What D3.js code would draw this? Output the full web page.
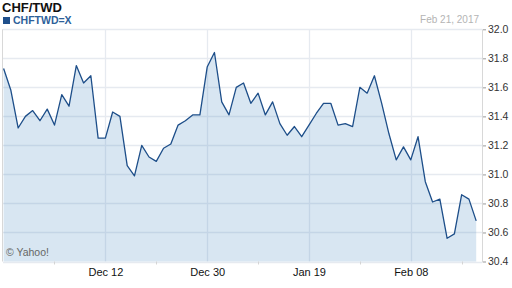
<!DOCTYPE html>
<html>
<head>
<meta charset="utf-8">
<script src="https://cdn.jsdelivr.net/npm/d3@7"></script>
<style>
  body { margin: 0; background: #fff; }
  svg { display: block; font-family: "Liberation Sans", Arial, sans-serif; }
</style>
</head>
<body>
<div id="chart"></div>
<script>
// daily closes, Nov 22 2016 .. Feb 21 2017 (weekdays only)
var closes = [31.73, 31.58, 31.32, 31.40, 31.44, 31.37, 31.45, 31.34, 31.55, 31.47,
              31.75, 31.63, 31.68, 31.25, 31.25, 31.43, 31.40, 31.06, 30.99, 31.20,
              31.12, 31.09, 31.18, 31.21, 31.34, 31.37, 31.41, 31.41, 31.74, 31.84,
              31.50, 31.41, 31.60, 31.63, 31.49, 31.56, 31.41, 31.50, 31.35, 31.27,
              31.33, 31.26, 31.34, 31.42, 31.49, 31.49, 31.34, 31.35, 31.33, 31.60,
              31.56, 31.68, 31.49, 31.28, 31.10, 31.19, 31.10, 31.26, 30.95, 30.81,
              30.83, 30.56, 30.59, 30.86, 30.83, 30.68];

var xTickIdx = [14, 28, 42, 56];
var xTickLabels = ["Dec 12", "Dec 30", "Jan 19", "Feb 08"];
var xMinorIdx = [7, 21, 35, 49, 63];
var yTicks = [30.4, 30.6, 30.8, 31.0, 31.2, 31.4, 31.6, 31.8, 32.0];

var title = "CHF/TWD";
var symbol = "CHFTWD=X";
var asOf = "Feb 21, 2017";

var width = 512, height = 288;
var plot = {left: 3, right: 482, top: 29.3, bottom: 261.5};

var x = d3.scaleLinear()
    .domain([0, closes.length - 1])
    .range([plot.left + 0.6, 476.2]);

var y = d3.scaleLinear()
    .domain([30.4, 32.0])
    .range([plot.bottom, plot.top]);

var svg = d3.select("#chart").append("svg")
    .attr("width", width)
    .attr("height", height);

// header
svg.append("text")
    .attr("x", 2)
    .attr("y", 12)
    .style("font-size", "13px")
    .style("font-weight", "bold")
    .style("fill", "#111")
    .text(title);

svg.append("rect")
    .attr("x", 3).attr("y", 17)
    .attr("width", 7).attr("height", 7)
    .style("fill", "#1f4f8b");

svg.append("text")
    .attr("x", 13)
    .attr("y", 24)
    .style("font-size", "10.5px")
    .style("font-weight", "bold")
    .style("fill", "#2d5f9a")
    .text(symbol);

svg.append("text")
    .attr("x", 479)
    .attr("y", 23)
    .style("font-size", "10px")
    .style("text-anchor", "end")
    .style("fill", "#b4b4b4")
    .text(asOf);

// gridlines
var grid = svg.append("g").attr("class", "grid");

grid.selectAll(".hgrid")
    .data(yTicks)
    .enter().append("line")
    .attr("class", "hgrid")
    .attr("x1", plot.left)
    .attr("x2", plot.right)
    .attr("y1", function (d) { return Math.round(y(d)) + 0.5; })
    .attr("y2", function (d) { return Math.round(y(d)) + 0.5; })
    .style("stroke", "#e6eaf0")
    .style("stroke-width", 1.3);

grid.selectAll(".vgrid")
    .data(xTickIdx)
    .enter().append("line")
    .attr("class", "vgrid")
    .attr("x1", function (d) { return Math.round(x(d)) + 0.5; })
    .attr("x2", function (d) { return Math.round(x(d)) + 0.5; })
    .attr("y1", plot.top)
    .attr("y2", plot.bottom)
    .style("stroke", "#e6eaf0")
    .style("stroke-width", 1.3);

// area + line
var area = d3.area()
    .x(function (d, i) { return x(i); })
    .y0(plot.bottom)
    .y1(function (d) { return y(d); });

var line = d3.line()
    .x(function (d, i) { return x(i); })
    .y(function (d) { return y(d); });

svg.append("path")
    .datum(closes)
    .attr("d", area)
    .style("fill", "rgb(60,130,190)")
    .style("fill-opacity", 0.2);

svg.append("path")
    .datum(closes)
    .attr("d", line)
    .style("fill", "none")
    .style("stroke", "#1d4e89")
    .style("stroke-width", 1.3)
    .style("stroke-linejoin", "round");

// frame: left edge and right axis line
svg.append("line")
    .attr("x1", plot.left - 0.5).attr("x2", plot.left - 0.5)
    .attr("y1", plot.top).attr("y2", plot.bottom)
    .style("stroke", "#d8d8d8");

svg.append("line")
    .attr("x1", plot.right + 0.5).attr("x2", plot.right + 0.5)
    .attr("y1", plot.top).attr("y2", plot.bottom + 1)
    .style("stroke", "#d8d8d8");

// right y axis
var yAxis = svg.append("g")
    .attr("transform", "translate(" + (plot.right + 1) + ",0)")
    .call(d3.axisRight(y).tickValues(yTicks).tickSize(3).tickPadding(2)
        .tickFormat(d3.format(".1f")));

yAxis.select(".domain").remove();
yAxis.selectAll("line").style("stroke", "#999");
yAxis.selectAll("text")
    .style("font-size", "10.5px")
    .style("fill", "#333")
    .style("font-family", "\"Liberation Sans\", Arial, sans-serif");

// bottom x axis
var xAxis = svg.append("g")
    .attr("transform", "translate(0," + plot.bottom + ")")
    .call(d3.axisBottom(x).tickValues(xTickIdx).tickSize(0).tickPadding(7)
        .tickFormat(function (d, i) { return xTickLabels[i]; }));

xAxis.select(".domain").remove();
xAxis.selectAll("text")
    .style("font-size", "11px")
    .style("fill", "#111")
    .style("font-family", "\"Liberation Sans\", Arial, sans-serif");

svg.selectAll(".minor")
    .data(xMinorIdx)
    .enter().append("line")
    .attr("class", "minor")
    .attr("x1", function (d) { return Math.round(x(d)) + 0.5; })
    .attr("x2", function (d) { return Math.round(x(d)) + 0.5; })
    .attr("y1", plot.bottom)
    .attr("y2", plot.bottom + 3)
    .style("stroke", "#d4d4d4");

// watermark
svg.append("text")
    .attr("x", 6)
    .attr("y", 256)
    .style("font-size", "10.5px")
    .style("fill", "#666")
    .text("\u00a9 Yahoo!");
</script>
</body>
</html>
